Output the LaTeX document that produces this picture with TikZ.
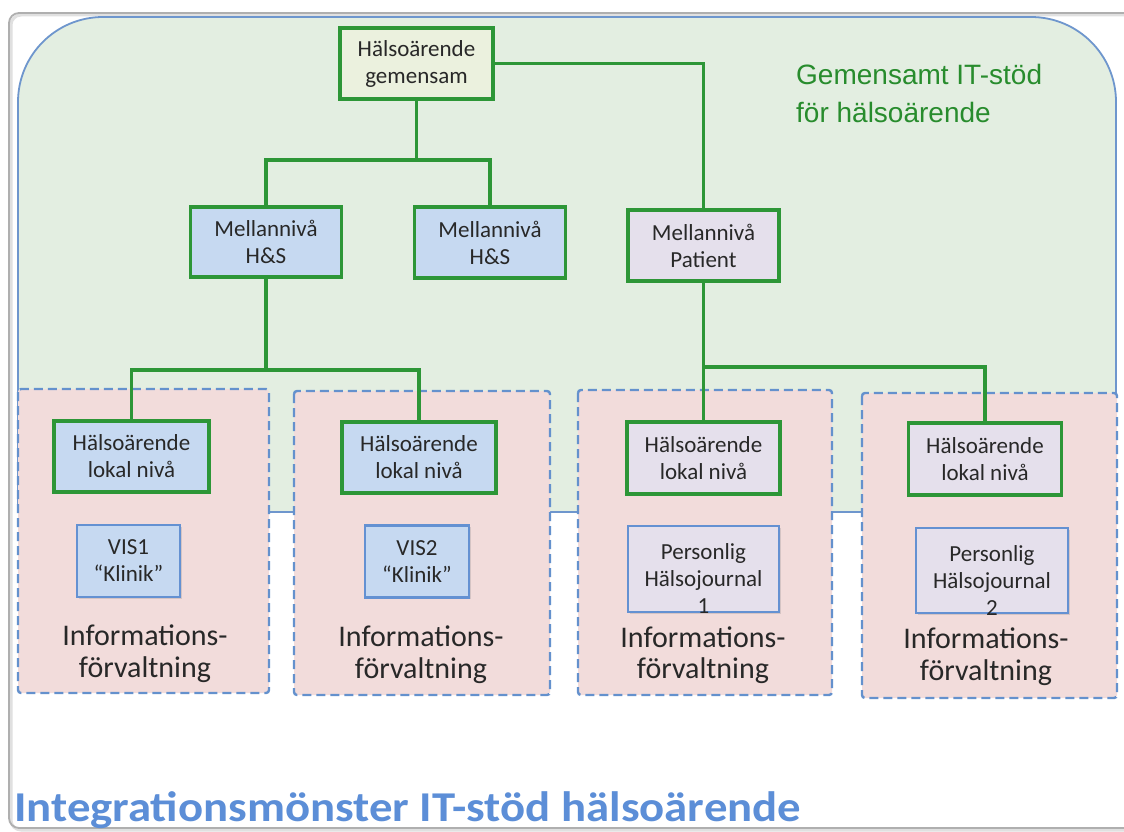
\documentclass[tikz,border=0pt]{standalone}
\usepackage{fontspec}
\setmainfont{Carlito}
\newfontfamily\arialfont{Liberation Sans}
\usetikzlibrary{shadows}

\definecolor{regionfill}{RGB}{227,238,225}
\definecolor{regionedge}{RGB}{110,150,205}
\definecolor{zonefill}{RGB}{242,220,219}
\definecolor{zoneedge}{RGB}{100,145,205}
\definecolor{linkgreen}{RGB}{45,150,55}
\definecolor{topfill}{RGB}{235,241,222}
\definecolor{bluefill}{RGB}{198,217,241}
\definecolor{lilacfill}{RGB}{229,224,236}
\definecolor{sysedge}{RGB}{100,145,210}
\definecolor{labelgreen}{RGB}{40,140,45}
\definecolor{titleblue}{RGB}{92,142,215}
\definecolor{framegray}{RGB}{175,175,175}
\definecolor{textgray}{RGB}{40,40,40}

\begin{document}
\begin{tikzpicture}[x=1pt,y=-1pt,
  boxtext/.style={font=\fontsize{23}{27}\selectfont, align=center, text=textgray, inner sep=0pt},
  gbox/.style={boxtext, draw=linkgreen, line width=3.2pt,
    drop shadow={shadow xshift=1.5pt, shadow yshift=-1.5pt, opacity=0.25}},
  sysbox/.style={boxtext, draw=sysedge, line width=2.4pt,
    drop shadow={shadow xshift=1.5pt, shadow yshift=-1.5pt, opacity=0.25}},
  conn/.style={draw=linkgreen, line width=3.6pt},
  zone/.style={draw=zoneedge, fill=zonefill, line width=2.4pt,
    dash pattern=on 9pt off 5pt, rounded corners=3pt},
  infotext/.style={font=\fontsize{30}{34}\selectfont, text=textgray, inner sep=0pt, anchor=base}
]
\useasboundingbox (0,0) rectangle (1124,832);
\fill[white] (0,0) rectangle (1124,832);

% outer slide frame
\draw[black!12, line width=3pt, rounded corners=10pt] (1124,15) -- (11,15) -- (11,830) -- (1124,830);
\draw[framegray, line width=1.8pt, rounded corners=10pt] (1124,13) -- (9,13) -- (9,828) -- (1124,828);

% shared IT-support region (rounded top, straight bottom)
\fill[regionfill, rounded corners=85pt] (18,512) -- (18,17) -- (1116,17) -- (1116,512);
\draw[regionedge, line width=1.8pt, rounded corners=85pt] (18,512) -- (18,17) -- (1116,17) -- (1116,512);
\draw[regionedge, line width=1.8pt] (18,512) -- (1116,512);

\node[labelgreen, font=\arialfont\fontsize{28}{38}\selectfont, anchor=base west, inner sep=0pt]
  (lbl1) at (796,85) {Gemensamt IT-stöd};
\node[labelgreen, font=\arialfont\fontsize{28}{38}\selectfont, anchor=base west, inner sep=0pt]
  (lbl2) at (796,123) {för hälsoärende};

% information management zones
\draw[zone] (18,389) rectangle (269,693);
\draw[zone] (294,391) rectangle (550,695);
\draw[zone] (578,390) rectangle (832,695);
\draw[zone] (862,393) rectangle (1117,698);

% health-case nodes
\node[gbox, fill=topfill, minimum width=153pt, minimum height=71pt] (top) at (416.5,63.5) {Hälsoärende\\gemensam};
\node[gbox, fill=bluefill, minimum width=151pt, minimum height=70pt] (hs1) at (266,242) {Mellannivå\\H\&S};
\node[gbox, fill=bluefill, minimum width=151pt, minimum height=71pt] (hs2) at (490,242.5) {Mellannivå\\H\&S};
\node[gbox, fill=lilacfill, minimum width=151pt, minimum height=71pt] (pat) at (703.5,245.5) {Mellannivå\\Patient};

\node[gbox, fill=bluefill, minimum width=155pt, minimum height=71pt] (lok1) at (131.5,456.5) {Hälsoärende\\lokal nivå};
\node[gbox, fill=bluefill, minimum width=154pt, minimum height=71pt] (lok2) at (419,457.5) {Hälsoärende\\lokal nivå};
\node[gbox, fill=lilacfill, minimum width=153pt, minimum height=72pt] (lok3) at (703.5,458) {Hälsoärende\\lokal nivå};
\node[gbox, fill=lilacfill, minimum width=153pt, minimum height=72pt] (lok4) at (985,459) {Hälsoärende\\lokal nivå};

% local systems (journal texts sit low in their boxes)
\node[sysbox, fill=bluefill, minimum width=103pt, minimum height=72pt] (vis1) at (128.5,561) {VIS1\\“Klinik”};
\node[sysbox, fill=bluefill, minimum width=104pt, minimum height=72pt] (vis2) at (417,561.5) {VIS2\\“Klinik”};
\node[sysbox, fill=lilacfill, minimum width=151pt, minimum height=86pt,
  label={[boxtext, yshift=-10pt]center:Personlig\\Hälsojournal\\1}] (phj1) at (703.5,569) {};
\node[sysbox, fill=lilacfill, minimum width=152pt, minimum height=85pt,
  label={[boxtext, yshift=-10pt]center:Personlig\\Hälsojournal\\2}] (phj2) at (992,570.5) {};

% zone captions
\node[infotext] (inf1a) at (145,645) {Informations-};
\node[infotext] (inf1b) at (145,677) {förvaltning};
\node[infotext] (inf2a) at (421,646) {Informations-};
\node[infotext] (inf2b) at (421,678) {förvaltning};
\node[infotext] (inf3a) at (703,647) {Informations-};
\node[infotext] (inf3b) at (703,678) {förvaltning};
\node[infotext] (inf4a) at (986,648) {Informations-};
\node[infotext] (inf4b) at (986,680) {förvaltning};

% connectors
\coordinate (j1) at (416.5,160);
\coordinate (j2) at (266,370);
\coordinate (j3) at (703.5,367);
\draw[conn] (top.south) -- (j1);
\draw[conn] (hs1.north) |- (j1) -| (hs2.north);
\draw[conn] (top.east) -| (pat.north);
\draw[conn] (hs1.south) -- (j2);
\draw[conn] (lok1.north) |- (j2) -| (lok2.north);
\draw[conn] (pat.south) -- (lok3.north);
\draw[conn] (j3) -| (lok4.north);

% title
\node[titleblue, font=\bfseries\fontsize{42.5}{48}\selectfont, anchor=base west, inner sep=0pt]
  (title) at (14,821) {\scalebox{1.1}[1]{Integrationsmönster IT-stöd hälsoärende}};
\end{tikzpicture}
\end{document}
